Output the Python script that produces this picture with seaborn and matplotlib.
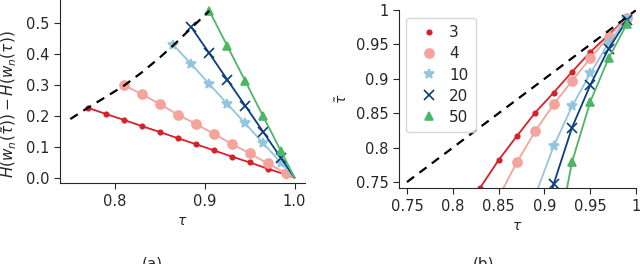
import numpy as np
import pandas as pd
import matplotlib
matplotlib.use("Agg")
import matplotlib.pyplot as plt
from matplotlib.lines import Line2D
from matplotlib.ticker import FormatStrFormatter
import seaborn as sns

# --------------------------- DATA ---------------------------

labels = ["3", "4", "10", "20", "50"]
colors = ["#d6202a", "#f5a39c", "#92c5de", "#0b3c80", "#4db566"]
markers = ["o", "o", "*", "x", "^"]
msizes = [3.2, 6.5, 7, 6.5, 6]

# panel (a): tau vs H(w_n(tilde tau)) - H(w_n(tau))
tau_a = {
    "3": [0.77, 0.79, 0.81, 0.83, 0.85, 0.87, 0.89, 0.91, 0.93, 0.95, 0.97, 0.99, 1.0],
    "4": [0.81, 0.83, 0.85, 0.87, 0.89, 0.91, 0.93, 0.95, 0.97, 0.99, 1.0],
    "10": [0.865, 0.885, 0.905, 0.925, 0.945, 0.965, 0.985, 1.0],
    "20": [0.885, 0.905, 0.925, 0.945, 0.965, 0.985, 1.0],
    "50": [0.905, 0.925, 0.945, 0.965, 0.985, 1.0],
}
dH_a = {
    "3": [0.225, 0.205, 0.186, 0.166, 0.147, 0.127, 0.108, 0.088, 0.068, 0.049, 0.029, 0.010, 0.0],
    "4": [0.298, 0.269, 0.237, 0.203, 0.173, 0.141, 0.109, 0.078, 0.046, 0.015, 0.0],
    "10": [0.428, 0.366, 0.302, 0.238, 0.175, 0.111, 0.048, 0.0],
    "20": [0.485, 0.401, 0.316, 0.232, 0.148, 0.063, 0.0],
    "50": [0.538, 0.425, 0.312, 0.198, 0.085, 0.0],
}
bound_tau = [0.75, 0.77, 0.79, 0.81, 0.83, 0.85, 0.865, 0.885, 0.905]
bound_dH = [0.189, 0.226, 0.261, 0.297, 0.340, 0.388, 0.427, 0.483, 0.538]

# panel (b): tau vs tilde tau
tau_b = {
    "3": [0.81, 0.83, 0.85, 0.87, 0.89, 0.91, 0.93, 0.95, 0.97, 0.99],
    "4": [0.85, 0.87, 0.89, 0.91, 0.93, 0.95, 0.97, 0.99],
    "10": [0.89, 0.91, 0.93, 0.95, 0.97, 0.99],
    "20": [0.89, 0.91, 0.93, 0.95, 0.97, 0.99],
    "50": [0.91, 0.93, 0.95, 0.97, 0.99],
}
tt_b = {
    "3": [0.700, 0.742, 0.782, 0.817, 0.851, 0.880, 0.910, 0.939, 0.964, 0.989],
    "4": [0.728, 0.779, 0.824, 0.863, 0.897, 0.930, 0.961, 0.989],
    "10": [0.731, 0.802, 0.860, 0.908, 0.952, 0.987],
    "20": [0.640, 0.747, 0.829, 0.891, 0.944, 0.985],
    "50": [0.640, 0.779, 0.867, 0.930, 0.980],
}
diag = [0.75, 1.0]

# --------------------------- PLOT ---------------------------

sns.set_style("ticks")
plt.rcParams["font.family"] = ["DejaVu Sans"]
plt.rcParams["mathtext.fontset"] = "dejavusans"

fig = plt.figure(figsize=(6.4, 2.64), dpi=100)
ax1 = fig.add_axes([0.093, 0.306, 0.384, 0.694])
ax2 = fig.add_axes([0.623, 0.287, 0.371, 0.675])

for lab, c, m, ms in zip(labels, colors, markers, msizes):
    sns.lineplot(x=tau_a[lab], y=dH_a[lab], ax=ax1, color=c, marker=m, markersize=ms,
                 markeredgecolor=c, markeredgewidth=1.2, lw=1.3,
                 markevery=list(range(len(tau_a[lab]) - 1)))
sns.lineplot(x=bound_tau, y=bound_dH, ax=ax1, color="black", lw=1.6, linestyle=(0, (4, 3)))

ax1.set_xlim(0.738, 1.012)
ax1.set_ylim(-0.018, 0.573)
ax1.set_xticks([0.8, 0.9, 1.0])
ax1.set_yticks([0.0, 0.1, 0.2, 0.3, 0.4, 0.5])
ax1.set_xlabel(r"$\tau$", fontsize=10)
ax1.set_ylabel(r"$H(w_n(\tilde{\tau})) - H(w_n(\tau))$", fontsize=11)
ax1.yaxis.set_label_coords(-0.165, 0.43)
ax1.tick_params(labelsize=10.5, length=4)

for lab, c, m, ms in zip(labels, colors, markers, msizes):
    sns.lineplot(x=tau_b[lab], y=tt_b[lab], ax=ax2, color=c, marker=m, markersize=ms,
                 markeredgecolor=c, markeredgewidth=1.2, lw=1.3)
sns.lineplot(x=diag, y=diag, ax=ax2, color="black", lw=1.6, linestyle=(0, (4, 3)))

ax2.set_xlim(0.741, 1.0)
ax2.set_ylim(0.741, 1.0)
ax2.set_xticks([0.75, 0.8, 0.85, 0.9, 0.95, 1.0])
ax2.set_yticks([0.75, 0.8, 0.85, 0.9, 0.95, 1.0])
ax2.xaxis.set_major_formatter(FormatStrFormatter("%g"))
ax2.yaxis.set_major_formatter(FormatStrFormatter("%g"))
ax2.set_xlabel(r"$\tau$", fontsize=10)
ax2.set_ylabel(r"$\tilde{\tau}$", fontsize=10)
ax2.tick_params(labelsize=10.5, length=4)

handles = [Line2D([], [], ls="none", marker=m, color=c, markersize=ms, markeredgewidth=1.2)
           for c, m, ms in zip(colors, markers, msizes)]
ax2.legend(handles, labels, loc="upper left", fontsize=11, handletextpad=0.3,
           labelspacing=0.4, borderpad=0.5)

sns.despine(fig=fig)

fig.text(152 / 640, 0.03, "(a)", ha="center", va="top", fontsize=11)
fig.text(483 / 640, 0.03, "(b)", ha="center", va="top", fontsize=11)

fig.savefig("out.png", dpi=100)
